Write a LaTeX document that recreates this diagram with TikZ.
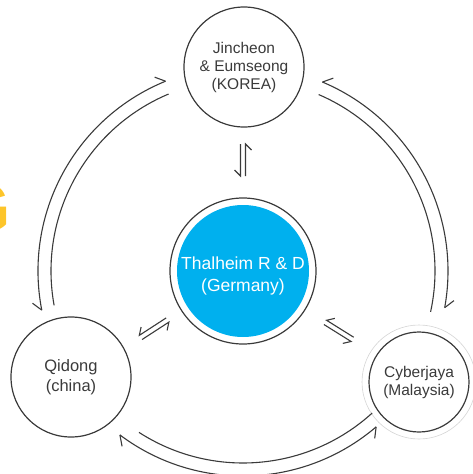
\documentclass[tikz,border=0pt]{standalone}
\usepackage{fontspec}
\setmainfont{Liberation Sans}
\usetikzlibrary{calc}
\definecolor{ln}{HTML}{3A3A3A}
\definecolor{cyanb}{HTML}{00B0EE}
\definecolor{gold}{HTML}{FDC52A}
\definecolor{faint}{HTML}{D4D4D4}
\begin{document}
\begin{tikzpicture}[x=1pt,y=1pt,
  arcln/.style={draw=ln, line width=1.1pt},
  place/.style={circle, draw=ln, line width=1.2pt, inner sep=0pt, align=center, text=ln},
  lbl/.style={inner sep=0pt, align=center}]
\useasboundingbox (0,0) rectangle (473,-474);
\clip (0,0) rectangle (473,-474);
\coordinate (C) at (243,-271);

% cut-off yellow letter at the left edge
\node[anchor=base east, inner sep=0pt, text=gold, font=\fontsize{70}{70}\selectfont\bfseries] (g) at (11.5,-232) {G};

% outer nodes
\node[place, minimum size=120pt, font=\fontsize{15.5}{18}\selectfont] (jin) at (244,-67) {Jincheon\\\& Eumseong\\(KOREA)};
\node[place, minimum size=120pt, font=\fontsize{16.5}{20}\selectfont] (qid) at (71,-377) {Qidong\\(china)};
\draw[faint, line width=0.6pt] (419,-382) circle[radius=57];
\node[place, minimum size=100pt, font=\fontsize{15.5}{18}\selectfont] (cyb) at (419,-382) {Cyberjaya\\(Malaysia)};

% centre node
\fill[cyanb] (C) circle[radius=66];
\node[circle, draw=ln, line width=1.2pt, minimum size=146pt, inner sep=0pt] (thal) at (C) {};
\node[lbl, text=white, font=\fontsize{17.5}{21.5}\selectfont] (thaltxt) at (243,-276) {Thalheim R \& D\\(Germany)};

% big arcs between outer nodes (outer line with barbs at both ends, inner plain)
% left: jin <-> qid
\draw[arcln] ([shift={(C)}]112.2:205) arc[start angle=112.2, end angle=191, radius=205];
\draw[arcln] ([shift={(C)}]114.5:213) -- ([shift={(C)}]112.2:205);
\draw[arcln] ([shift={(C)}]188.7:213) -- ([shift={(C)}]191:205);
\draw[arcln] ([shift={(C)}]112.8:192) arc[start angle=112.8, end angle=190.3, radius=192];
% right: jin <-> cyb
\draw[arcln] ([shift={(C)}]67.2:205) arc[start angle=67.2, end angle=-10.3, radius=205];
\draw[arcln] ([shift={(C)}]64.9:213) -- ([shift={(C)}]67.2:205);
\draw[arcln] ([shift={(C)}]-8:213) -- ([shift={(C)}]-10.3:205);
\draw[arcln] ([shift={(C)}]66.8:192) arc[start angle=66.8, end angle=-12.3, radius=192];
% bottom: qid <-> cyb
\draw[arcln] ([shift={(C)}]233.1:205) arc[start angle=233.1, end angle=310.5, radius=205];
\draw[arcln] ([shift={(C)}]235.4:213) -- ([shift={(C)}]233.1:205);
\draw[arcln] ([shift={(C)}]308.2:213) -- ([shift={(C)}]310.5:205);
\draw[arcln] ([shift={(C)}]237.2:192) arc[start angle=237.2, end angle=312.3, radius=192];

% small harpoon pairs between centre and outer nodes
\begin{scope}[shift={(C)}, rotate=90]
  \draw[arcln] (95,-2.5) -- (127,-2.5) -- (121,-8.5);
  \draw[arcln] (127,2.5) -- (95,2.5) -- (101,8.5);
\end{scope}
\begin{scope}[shift={(C)}, rotate=213]
  \draw[arcln] (90,-2.5) -- (122,-2.5) -- (116,-8.5);
  \draw[arcln] (122,2.5) -- (90,2.5) -- (96,8.5);
\end{scope}
\begin{scope}[shift={(C)}, rotate=-32]
  \draw[arcln] (97,-2.5) -- (129,-2.5) -- (123,-8.5);
  \draw[arcln] (129,2.5) -- (97,2.5) -- (103,8.5);
\end{scope}
\end{tikzpicture}
\end{document}
